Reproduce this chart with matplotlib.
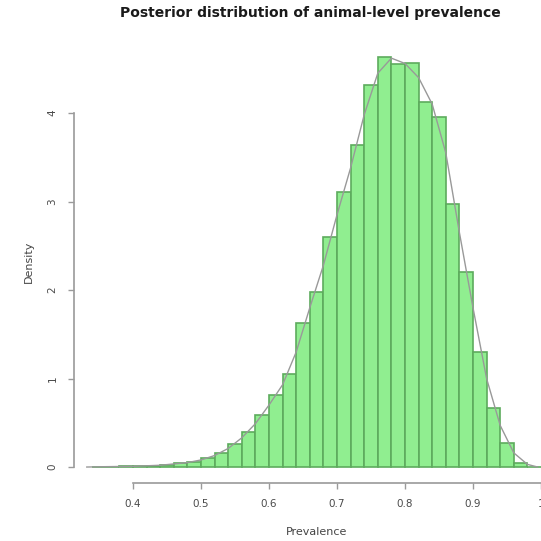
import numpy as np
import matplotlib.pyplot as plt

# histogram bins (width 0.02) and densities
bin_left = [0.34, 0.36, 0.38, 0.40, 0.42, 0.44, 0.46, 0.48, 0.50, 0.52, 0.54,
            0.56, 0.58, 0.60, 0.62, 0.64, 0.66, 0.68, 0.70, 0.72, 0.74, 0.76,
            0.78, 0.80, 0.82, 0.84, 0.86, 0.88, 0.90, 0.92, 0.94, 0.96, 0.98]
density = [0.005, 0.005, 0.008, 0.01, 0.015, 0.025, 0.04, 0.06, 0.10, 0.16, 0.26,
           0.40, 0.59, 0.81, 1.05, 1.63, 1.98, 2.60, 3.11, 3.64, 4.32, 4.63,
           4.55, 4.57, 4.13, 3.96, 2.97, 2.20, 1.30, 0.67, 0.27, 0.05, 0.005]
bin_width = 0.02

# smoothed density curve drawn on top
curve_x = [0.332, 0.36, 0.40, 0.44, 0.48, 0.50, 0.52, 0.54, 0.56, 0.58, 0.60,
           0.62, 0.64, 0.66, 0.68, 0.70, 0.72, 0.74, 0.76, 0.78, 0.80, 0.82,
           0.84, 0.86, 0.88, 0.90, 0.92, 0.94, 0.96, 0.98, 0.995]
curve_y = [0.0, 0.004, 0.008, 0.02, 0.05, 0.08, 0.13, 0.21, 0.33, 0.49, 0.70,
           0.93, 1.30, 1.80, 2.28, 2.85, 3.38, 3.98, 4.45, 4.62, 4.56, 4.40,
           4.10, 3.55, 2.65, 1.80, 1.00, 0.47, 0.16, 0.03, 0.0]

xticks = [0.4, 0.5, 0.6, 0.7, 0.8, 0.9, 1.0]
xtick_labels = ['0.4', '0.5', '0.6', '0.7', '0.8', '0.9', '1']
yticks = [0, 1, 2, 3, 4]

fig = plt.figure(figsize=(5.41, 5.41), dpi=100)
ax = fig.add_axes([74.25 / 541, 57.6 / 541, 484.7 / 541, 442.5 / 541])

ax.bar(bin_left, density, width=bin_width, align='edge',
       color='#90ee90', edgecolor='#5dab5d', linewidth=1.2, zorder=2)
ax.plot(curve_x, curve_y, color='#999999', linewidth=1.0, zorder=3)

ax.set_xlim(0.3136, 1.0264)
ax.set_ylim(-0.185, 4.815)

# R-style detached axes
for side in ['top', 'right']:
    ax.spines[side].set_visible(False)
ax.spines['bottom'].set_bounds(0.4, 1.0)
ax.spines['left'].set_bounds(0, 4)
for side in ['bottom', 'left']:
    ax.spines[side].set_color('#9a9a9a')
    ax.spines[side].set_linewidth(1.2)

ax.set_xticks(xticks)
ax.set_xticklabels(xtick_labels)
ax.set_yticks(yticks)
ax.set_yticklabels([str(v) for v in yticks], rotation=90, va='center')
ax.tick_params(axis='both', colors='#9a9a9a', labelcolor='#4a4a4a',
               length=4, width=1.0, labelsize=7.5)
ax.tick_params(axis='x', pad=7)
ax.tick_params(axis='y', pad=8)

ax.set_xlabel('Prevalence', fontsize=8, color='#444444', labelpad=13)
ax.set_ylabel('Density', fontsize=8, color='#444444', labelpad=10)

fig.text(310 / 541, 1 - 13 / 541, 'Posterior distribution of animal-level prevalence',
         ha='center', va='center', fontsize=10, fontweight='bold', color='#1a1a1a')

fig.savefig('out.png', dpi=100)
